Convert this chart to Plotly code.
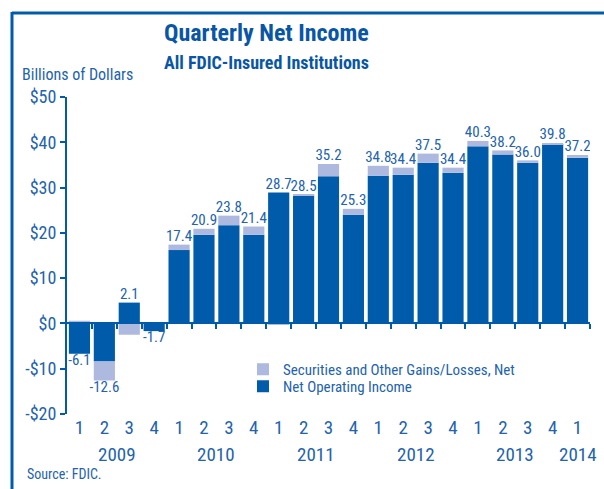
import plotly.graph_objects as go

# ---------------- data ----------------
quarters = ["1", "2", "3", "4", "1", "2", "3", "4", "1", "2", "3", "4",
            "1", "2", "3", "4", "1", "2", "3", "4", "1"]
years = ["2009", "2010", "2011", "2012", "2013", "2014"]
year_first_index = [0, 4, 8, 12, 16, 20]
year_quarter_count = [4, 4, 4, 4, 4, 1]
net_operating_income = [-6.7, -8.4, 4.6, -1.7, 16.2, 19.6, 21.7, 19.6, 28.9, 28.3, 32.5,
                        24.0, 32.6, 32.8, 35.5, 33.3, 39.1, 37.3, 35.5, 39.6, 36.6]
securities_gains = [0.6, -4.2, -2.5, 0.0, 1.2, 1.3, 2.1, 1.8, -0.2, 0.2, 2.7,
                    1.3, 2.2, 1.6, 2.0, 1.1, 1.2, 0.9, 0.5, 0.2, 0.6]
net_income_labels = ["-6.1", "-12.6", "2.1", "-1.7", "17.4", "20.9", "23.8", "21.4", "28.7",
                     "28.5", "35.2", "25.3", "34.8", "34.4", "37.5", "34.4", "40.3", "38.2",
                     "36.0", "39.8", "37.2"]
y_tick_values = [-20, -10, 0, 10, 20, 30, 40, 50]
y_tick_labels = ["-$20", "-$10", "$0", "$10", "$20", "$30", "$40", "$50"]

# ---------------- styles ----------------
DARK = "#005CAB"
LIGHT = "#ADB9DF"
TEXT = "#2263AE"
TITLE = "#0856A5"
FONT = "Liberation Sans Narrow, Roboto Condensed, Arial Narrow, sans-serif"

W_PX, H_PX = 604, 489
L, R, T, B = 67, 14, 97, 75
PW, PH = W_PX - L - R, H_PX - T - B


def px2x(px):
    return (px - L) / PW


def py2y(py):
    return (T + PH - py) / PH


idx = list(range(len(quarters)))

# label positions: top of stack for positive totals, bottom for negative
label_y, label_pos = [], []
for op, sec, lab in zip(net_operating_income, securities_gains, net_income_labels):
    total = float(lab)
    if total >= 0:
        label_y.append(max(op, 0) + max(sec, 0))
        label_pos.append("top center")
    else:
        label_y.append(min(op, 0) + min(sec, 0))
        label_pos.append("bottom center")

fig = go.Figure()
fig.add_trace(go.Bar(x=idx, y=net_operating_income, name="Net Operating Income",
                     marker=dict(color=DARK, line=dict(width=0)), legend="legend2"))
fig.add_trace(go.Bar(x=idx, y=securities_gains, name="Securities and Other Gains/Losses, Net",
                     marker=dict(color=LIGHT, line=dict(width=0)), legend="legend"))
fig.add_trace(go.Scatter(x=idx, y=label_y, mode="text", text=net_income_labels,
                         textposition=label_pos, showlegend=False, hoverinfo="skip",
                         textfont=dict(family=FONT, size=15, color=TEXT)))

# tick marks at category boundaries on the zero line
boundaries = [i + 0.5 for i in idx]

annotations = [
    dict(text="Quarterly Net Income", xref="paper", yref="paper", x=px2x(266), y=py2y(33),
         xanchor="center", yanchor="middle", showarrow=False,
         font=dict(family=FONT, size=24, color=TITLE, weight="bold")),
    dict(text="All FDIC-Insured Institutions", xref="paper", yref="paper", x=px2x(266), y=py2y(62),
         xanchor="center", yanchor="middle", showarrow=False,
         font=dict(family=FONT, size=18, color=TITLE, weight="bold")),
    dict(text="Billions of Dollars", xref="paper", yref="paper", x=px2x(20), y=py2y(74),
         xanchor="left", yanchor="middle", showarrow=False,
         font=dict(family=FONT, size=16, color=TEXT)),
    dict(text="Source: FDIC.", xref="paper", yref="paper", x=px2x(25), y=py2y(474),
         xanchor="left", yanchor="middle", showarrow=False,
         font=dict(family=FONT, size=14, color=TEXT)),
]
for yr, first, cnt in zip(years, year_first_index, year_quarter_count):
    annotations.append(dict(text=yr, xref="x", yref="paper", x=first + (cnt - 1) / 2,
                            y=py2y(454), xanchor="center", yanchor="middle", showarrow=False,
                            font=dict(family=FONT, size=19, color=TEXT)))

shapes = [
    dict(type="line", xref="paper", yref="paper", x0=px2x(12), x1=px2x(640), y0=py2y(13), y1=py2y(13),
         line=dict(color=DARK, width=3)),
    dict(type="line", xref="paper", yref="paper", x0=px2x(12), x1=px2x(12), y0=py2y(12), y1=py2y(520),
         line=dict(color=DARK, width=3)),
]

legend_common = dict(xanchor="left", yanchor="top", bgcolor="rgba(0,0,0,0)",
                     font=dict(family=FONT, size=15, color=TEXT), itemwidth=30)

fig.update_layout(
    width=W_PX, height=H_PX,
    margin=dict(l=L, r=R, t=T, b=B, pad=0),
    paper_bgcolor="white", plot_bgcolor="white",
    barmode="relative", bargap=0.15,
    font=dict(family=FONT, color=TEXT),
    showlegend=True,
    legend=dict(x=px2x(243), y=py2y(353), **legend_common),
    legend2=dict(x=px2x(243), y=py2y(370), **legend_common),
    xaxis=dict(range=[-0.5, len(quarters) - 0.5], tickvals=idx, ticktext=quarters,
               showgrid=False, zeroline=False, showline=False, ticks="",
               tickfont=dict(family=FONT, size=19, color=TEXT), anchor="free", position=0,
               fixedrange=True),
    xaxis2=dict(range=[-0.5, len(quarters) - 0.5], overlaying="x", anchor="free",
                position=(0 - y_tick_values[0]) / (y_tick_values[-1] - y_tick_values[0]),
                tickvals=boundaries, showticklabels=False, ticks="outside", ticklen=5,
                tickwidth=1.5, tickcolor=DARK, showline=True, linecolor=DARK, linewidth=2,
                showgrid=False, zeroline=False, side="bottom"),
    yaxis=dict(range=[y_tick_values[0], y_tick_values[-1]], tickvals=y_tick_values,
               ticktext=y_tick_labels, showgrid=False, zeroline=False, showline=True,
               linecolor=DARK, linewidth=2, ticks="outside", ticklen=5, tickwidth=1.5,
               tickcolor=DARK, tickfont=dict(family=FONT, size=18, color=TEXT)),
    annotations=annotations, shapes=shapes,
)
# invisible trace to activate xaxis2
fig.add_trace(go.Scatter(x=[0], y=[0], xaxis="x2", mode="markers", marker=dict(opacity=0),
                         showlegend=False, hoverinfo="skip"))

fig.write_html("out.html", config={"displayModeBar": False},
               post_script="document.body.style.margin='0px';"
               "document.body.style.overflow='hidden';")
